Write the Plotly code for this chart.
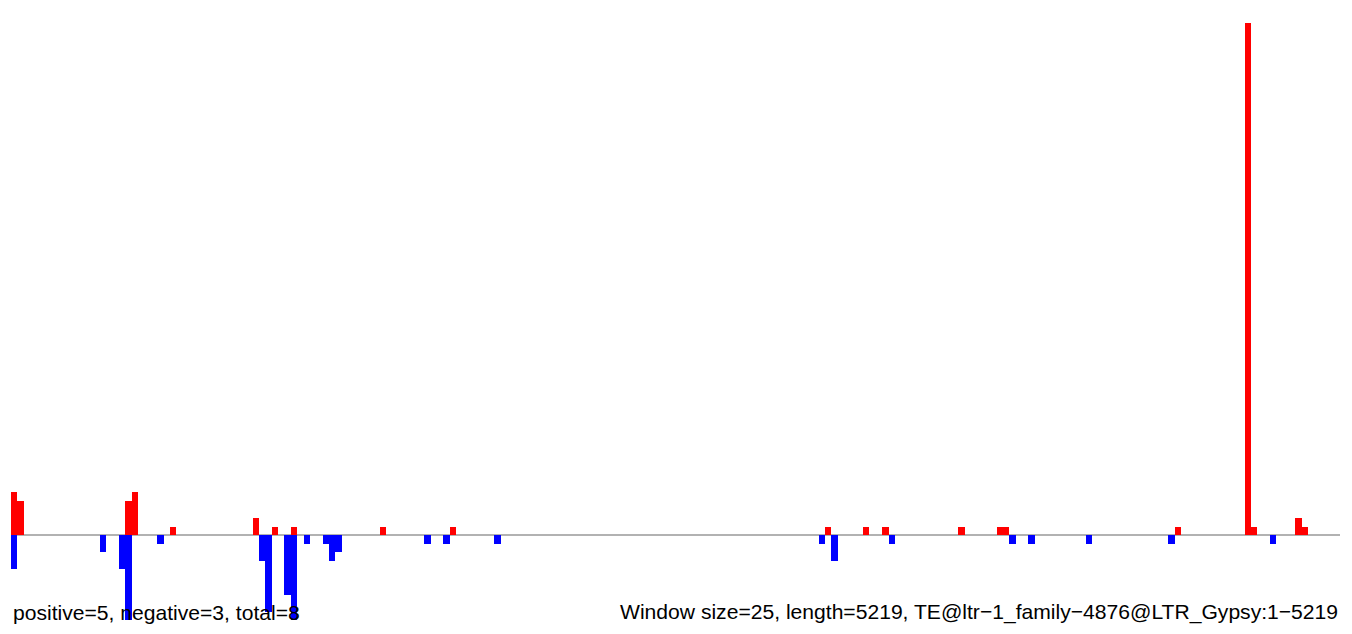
import plotly.graph_objects as go

# Window indices (0-based, window size 25) and counts
n_windows = 209
pos_windows = [0, 1, 18, 19, 25, 38, 41, 44, 58, 69, 128, 134, 137, 149, 155, 156, 183, 194, 195, 202, 203]
pos_values = [5, 4, 4, 5, 1, 2, 1, 1, 1, 1, 1, 1, 1, 1, 1, 1, 1, 60, 1, 2, 1]
neg_windows = [0, 14, 17, 18, 23, 39, 40, 43, 44, 46, 49, 50, 51, 65, 68, 76, 127, 129, 138, 157, 160, 169, 182, 198]
neg_values = [-4, -2, -4, -10, -1, -3, -9, -7, -10, -1, -1, -3, -2, -1, -1, -1, -1, -3, -1, -1, -1, -1, -1, -1]

left_label = "positive=5, negative=3, total=8"
right_label = "Window size=25, length=5219, TE@ltr\u22121_family\u22124876@LTR_Gypsy:1\u22125219"

fig = go.Figure()
fig.add_trace(go.Bar(x=[w + 0.5 for w in pos_windows], y=pos_values, width=1,
                     marker=dict(color="#FF0000", line=dict(width=0)), showlegend=False))
fig.add_trace(go.Bar(x=[w + 0.5 for w in neg_windows], y=neg_values, width=1,
                     marker=dict(color="#0000FF", line=dict(width=0)), showlegend=False))

fig.add_shape(type="line", xref="x", yref="y", x0=0, x1=n_windows, y0=0, y1=0,
              line=dict(color="#999999", width=1.5), layer="below")

fig.add_annotation(xref="paper", yref="paper", x=0, y=0.0128, xanchor="left", yanchor="bottom",
                   text=left_label, showarrow=False,
                   font=dict(family="Liberation Sans, Arial", size=21.1, color="#000000"))
fig.add_annotation(xref="paper", yref="paper", x=1, y=0.0128, xanchor="right", yanchor="bottom",
                   text=right_label, showarrow=False,
                   font=dict(family="Liberation Sans, Arial", size=21.1, color="#000000"))

fig.update_layout(
    width=1344, height=626,
    margin=dict(l=3, r=12, t=0, b=0),
    plot_bgcolor="white", paper_bgcolor="white",
    barmode="overlay", bargap=0,
    xaxis=dict(range=[0, n_windows], visible=False, showgrid=False, zeroline=False),
    yaxis=dict(range=[-11.6, 61.8], visible=False, showgrid=False, zeroline=False),
)

fig.write_html("out.html")
